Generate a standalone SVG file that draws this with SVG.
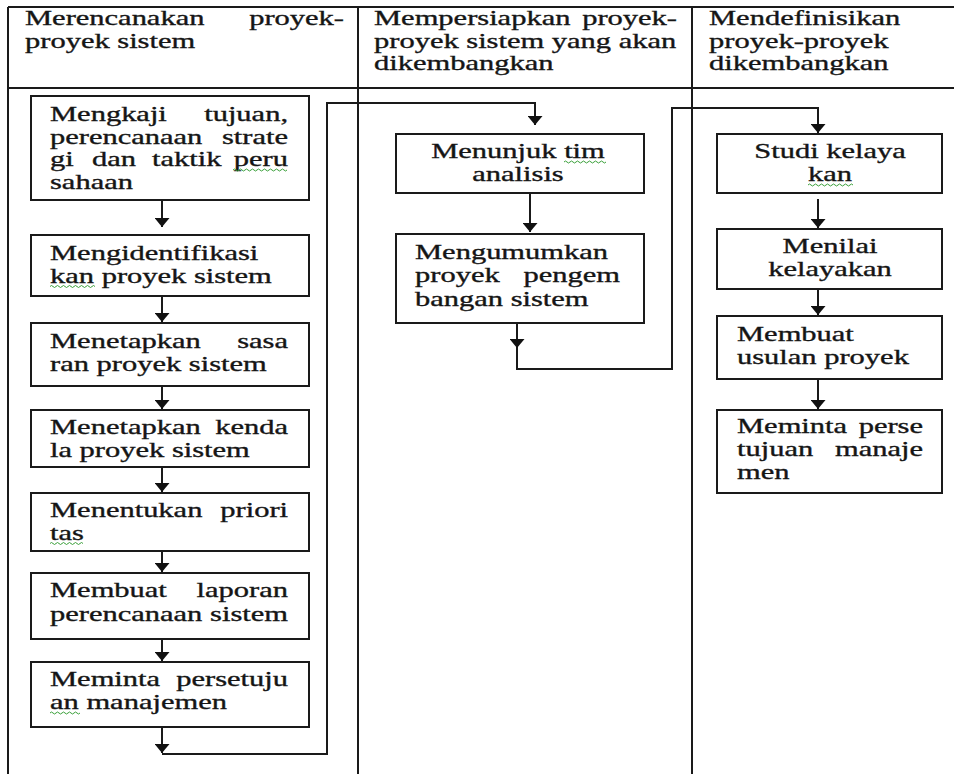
<svg xmlns="http://www.w3.org/2000/svg" width="954" height="774" viewBox="0 0 954 774">
<style>
.t{font-family:'Liberation Serif','DejaVu Serif','Times New Roman',Times,serif;font-size:21.5px;fill:#151515;stroke:#151515;stroke-width:0.35}
.c{text-anchor:middle}
.e{text-anchor:end}
.box{fill:#fff;stroke:#1a1a1a;stroke-width:2}
.grid{stroke:#1a1a1a;stroke-width:2;fill:none}
.ln{stroke:#1a1a1a;stroke-width:2;fill:none}
.sq{stroke:#3aa03a;stroke-width:1;fill:none}
</style>
<defs>
<marker id="ah" viewBox="0 0 9 15" refX="9" refY="7.5" markerWidth="9" markerHeight="15" markerUnits="userSpaceOnUse" orient="auto">
<path d="M0,0 L9,7.5 L0,15 z" fill="#111"/>
</marker>
</defs>
<rect width="954" height="774" fill="#fff"/>
<g id="table" class="grid">
<line x1="8" y1="7" x2="954" y2="7"/>
<line x1="8" y1="88" x2="954" y2="88"/>
<line x1="8" y1="7" x2="8" y2="774"/>
<line x1="358" y1="7" x2="358" y2="774"/>
<line x1="692" y1="7" x2="692" y2="774"/>
</g>
<g id="headers">
<text class="t" transform="matrix(1.4186 0 0 1 25 25)"><tspan x="0">Merencanakan</tspan><tspan x="224.9" class="e">proyek-</tspan></text>
<text class="t" transform="matrix(1.4186 0 0 1 25 47.5)">proyek sistem</text>
<text class="t" transform="matrix(1.4186 0 0 1 374 25)"><tspan x="0">Mempersiapkan</tspan><tspan x="213.6" class="e">proyek-</tspan></text>
<text class="t" transform="matrix(1.4186 0 0 1 374 47.5)">proyek sistem yang akan</text>
<text class="t" transform="matrix(1.4186 0 0 1 374 70)">dikembangkan</text>
<text class="t" transform="matrix(1.4186 0 0 1 709 25)">Mendefinisikan</text>
<text class="t" transform="matrix(1.4186 0 0 1 709 47.5)">proyek-proyek</text>
<text class="t" transform="matrix(1.4186 0 0 1 709 70)">dikembangkan</text>
</g>
<g id="connectors">
<path class="ln" d="M162,200 V227" marker-end="url(#ah)"/>
<path class="ln" d="M162,296 V322" marker-end="url(#ah)"/>
<path class="ln" d="M162,386 V409" marker-end="url(#ah)"/>
<path class="ln" d="M162,467 V492" marker-end="url(#ah)"/>
<path class="ln" d="M162,551 V572" marker-end="url(#ah)"/>
<path class="ln" d="M162,639 V661" marker-end="url(#ah)"/>
<path class="ln" d="M162,727 V753" marker-end="url(#ah)"/>
<path class="ln" d="M162,754 H327 V103 H535 V125" marker-end="url(#ah)"/>
<path class="ln" d="M530,193 V232" marker-end="url(#ah)"/>
<path class="ln" d="M517,323 V348" marker-end="url(#ah)"/>
<path class="ln" d="M517,348 V369 H672 V108 H818 V133" marker-end="url(#ah)"/>
<path class="ln" d="M818,199 V228" marker-end="url(#ah)"/>
<path class="ln" d="M818,289 V315" marker-end="url(#ah)"/>
<path class="ln" d="M818,379 V409" marker-end="url(#ah)"/>
</g>
<g id="n1">
<rect class="box" x="31" y="96" width="278" height="104"/>
<text class="t" transform="matrix(1.4186 0 0 1 50 121)"><tspan x="0">Mengkaji</tspan><tspan x="167.8" class="e">tujuan,</tspan></text>
<text class="t" transform="matrix(1.4186 0 0 1 50 143.5)"><tspan x="0">perencanaan</tspan><tspan x="167.8" class="e">strate</tspan></text>
<text class="t" transform="matrix(1.4186 0 0 1 50 166)"><tspan x="0">gi</tspan><tspan x="29.6">dan</tspan><tspan x="71.9">taktik</tspan><tspan x="167.8" class="e">peru</tspan></text>
<text class="t" transform="matrix(1.4186 0 0 1 50 188.5)">sahaan</text>
<path class="sq" d="M233,170 q1.5,-2 3,0 t3,0 t3,0 t3,0 t3,0 t3,0 t3,0 t3,0 t3,0 t3,0 t3,0 t3,0 t3,0 t3,0 t3,0 t3,0 t3,0 t3,0"/>
</g>
<g id="n2">
<rect class="box" x="31" y="235" width="278" height="61"/>
<text class="t" transform="matrix(1.4186 0 0 1 50 260)">Mengidentifikasi</text>
<text class="t" transform="matrix(1.4186 0 0 1 50 282.5)">kan proyek sistem</text>
<path class="sq" d="M50,286.5 q1.5,-2 3,0 t3,0 t3,0 t3,0 t3,0 t3,0 t3,0 t3,0 t3,0 t3,0 t3,0 t3,0 t3,0 t3,0 t3,0"/>
</g>
<g id="n3">
<rect class="box" x="31" y="323" width="278" height="63"/>
<text class="t" transform="matrix(1.4186 0 0 1 50 348)"><tspan x="0">Menetapkan</tspan><tspan x="167.8" class="e">sasa</tspan></text>
<text class="t" transform="matrix(1.4186 0 0 1 50 371)">ran proyek sistem</text>
</g>
<g id="n4">
<rect class="box" x="31" y="410" width="278" height="57"/>
<text class="t" transform="matrix(1.4186 0 0 1 50 434)"><tspan x="0">Menetapkan</tspan><tspan x="167.8" class="e">kenda</tspan></text>
<text class="t" transform="matrix(1.4186 0 0 1 50 456.5)">la proyek sistem</text>
</g>
<g id="n5">
<rect class="box" x="31" y="493" width="278" height="58"/>
<text class="t" transform="matrix(1.4186 0 0 1 50 517)"><tspan x="0">Menentukan</tspan><tspan x="167.8" class="e">priori</tspan></text>
<text class="t" transform="matrix(1.4186 0 0 1 50 539.5)">tas</text>
<path class="sq" d="M50,543.5 q1.5,-2 3,0 t3,0 t3,0 t3,0 t3,0 t3,0 t3,0 t3,0 t3,0 t3,0 t3,0"/>
</g>
<g id="n6">
<rect class="box" x="31" y="573" width="278" height="66"/>
<text class="t" transform="matrix(1.4186 0 0 1 50 597)"><tspan x="0">Membuat</tspan><tspan x="167.8" class="e">laporan</tspan></text>
<text class="t" transform="matrix(1.4186 0 0 1 50 621)"><tspan x="0">perencanaan</tspan><tspan x="167.8" class="e">sistem</tspan></text>
</g>
<g id="n7">
<rect class="box" x="31" y="662" width="278" height="65"/>
<text class="t" transform="matrix(1.4186 0 0 1 50 686)"><tspan x="0">Meminta</tspan><tspan x="167.8" class="e">persetuju</tspan></text>
<text class="t" transform="matrix(1.4186 0 0 1 50 709)">an manajemen</text>
<path class="sq" d="M50,713 q1.5,-2 3,0 t3,0 t3,0 t3,0 t3,0 t3,0 t3,0 t3,0 t3,0 t3,0"/>
</g>
<g id="m1">
<rect class="box" x="396" y="134" width="248" height="59"/>
<text class="t c" transform="matrix(1.4186 0 0 1 518 158)">Menunjuk tim</text>
<text class="t c" transform="matrix(1.4186 0 0 1 518 180.5)">analisis</text>
<path class="sq" d="M564,162 q1.5,-2 3,0 t3,0 t3,0 t3,0 t3,0 t3,0 t3,0 t3,0 t3,0 t3,0 t3,0 t3,0 t3,0 t3,0"/>
</g>
<g id="m2">
<rect class="box" x="396" y="234" width="248" height="89"/>
<text class="t" transform="matrix(1.4186 0 0 1 415 259)">Mengumumkan</text>
<text class="t" transform="matrix(1.4186 0 0 1 415 282)"><tspan x="0">proyek</tspan><tspan x="144.5" class="e">pengem</tspan></text>
<text class="t" transform="matrix(1.4186 0 0 1 415 305.5)">bangan sistem</text>
</g>
<g id="r1">
<rect class="box" x="717" y="134" width="225" height="59"/>
<text class="t c" transform="matrix(1.4186 0 0 1 830 158)">Studi kelaya</text>
<text class="t c" transform="matrix(1.4186 0 0 1 830 181)">kan</text>
<path class="sq" d="M808,185 q1.5,-2 3,0 t3,0 t3,0 t3,0 t3,0 t3,0 t3,0 t3,0 t3,0 t3,0 t3,0 t3,0 t3,0 t3,0 t3,0"/>
</g>
<g id="r2">
<rect class="box" x="717" y="229" width="225" height="60"/>
<text class="t c" transform="matrix(1.4186 0 0 1 830 253)">Menilai</text>
<text class="t c" transform="matrix(1.4186 0 0 1 830 276)">kelayakan</text>
</g>
<g id="r3">
<rect class="box" x="717" y="316" width="225" height="63"/>
<text class="t" transform="matrix(1.4186 0 0 1 737 341)">Membuat</text>
<text class="t" transform="matrix(1.4186 0 0 1 737 364)">usulan proyek</text>
</g>
<g id="r4">
<rect class="box" x="717" y="410" width="225" height="83"/>
<text class="t" transform="matrix(1.4186 0 0 1 737 433)"><tspan x="0">Meminta</tspan><tspan x="131.1" class="e">perse</tspan></text>
<text class="t" transform="matrix(1.4186 0 0 1 737 456)"><tspan x="0">tujuan</tspan><tspan x="131.1" class="e">manaje</tspan></text>
<text class="t" transform="matrix(1.4186 0 0 1 737 479)">men</text>
</g>
</svg>
